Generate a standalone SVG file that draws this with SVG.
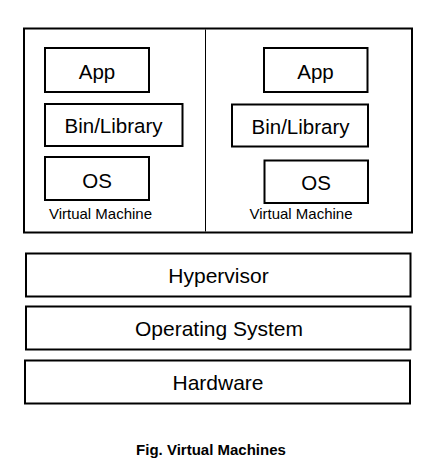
<svg xmlns="http://www.w3.org/2000/svg" width="431" height="472" viewBox="0 0 431 472">
<style>
.box{fill:#fff;stroke:#000;stroke-width:2}
.lbl{font-family:"Liberation Sans",Arial,sans-serif;font-size:20.5px;fill:#000;text-anchor:middle}
.big{font-family:"Liberation Sans",Arial,sans-serif;font-size:21px;fill:#000;text-anchor:middle}
.vm{font-family:"Liberation Sans",Arial,sans-serif;font-size:15px;fill:#000;text-anchor:middle}
.cap{font-family:"Liberation Sans",Arial,sans-serif;font-size:15px;font-weight:bold;fill:#000;text-anchor:middle}
</style>
<rect width="431" height="472" fill="#fff"/>
<g id="host">
<rect class="box" x="24" y="28.5" width="388" height="204"/>
<line x1="205.5" y1="29.5" x2="205.5" y2="231.5" stroke="#000" stroke-width="1"/>
</g>
<g id="vm1">
<rect class="box" x="45" y="48" width="104" height="44"/>
<text class="lbl" x="97" y="79">App</text>
<rect class="box" x="45" y="104" width="137.5" height="42"/>
<text class="lbl" x="113.5" y="133">Bin/Library</text>
<rect class="box" x="45" y="157" width="104" height="43"/>
<text class="lbl" x="97" y="188">OS</text>
<text class="vm" x="100.5" y="218.5">Virtual Machine</text>
</g>
<g id="vm2">
<rect class="box" x="264" y="48" width="103.5" height="44"/>
<text class="lbl" x="315.5" y="79">App</text>
<rect class="box" x="232" y="104.5" width="136" height="42"/>
<text class="lbl" x="300.5" y="134">Bin/Library</text>
<rect class="box" x="264.5" y="160.5" width="103.5" height="42.5"/>
<text class="lbl" x="316" y="190">OS</text>
<text class="vm" x="301" y="218.5">Virtual Machine</text>
</g>
<g id="hypervisor">
<rect class="box" x="26" y="253.5" width="384.5" height="43"/>
<text class="big" x="218.5" y="283">Hypervisor</text>
</g>
<g id="os">
<rect class="box" x="26" y="306.5" width="384.5" height="43"/>
<text class="big" x="219" y="335.5">Operating System</text>
</g>
<g id="hardware">
<rect class="box" x="25" y="360.5" width="385" height="43"/>
<text class="big" x="218" y="390">Hardware</text>
</g>
<g id="connectors"></g>
<text class="cap" x="211" y="455">Fig. Virtual Machines</text>
</svg>
